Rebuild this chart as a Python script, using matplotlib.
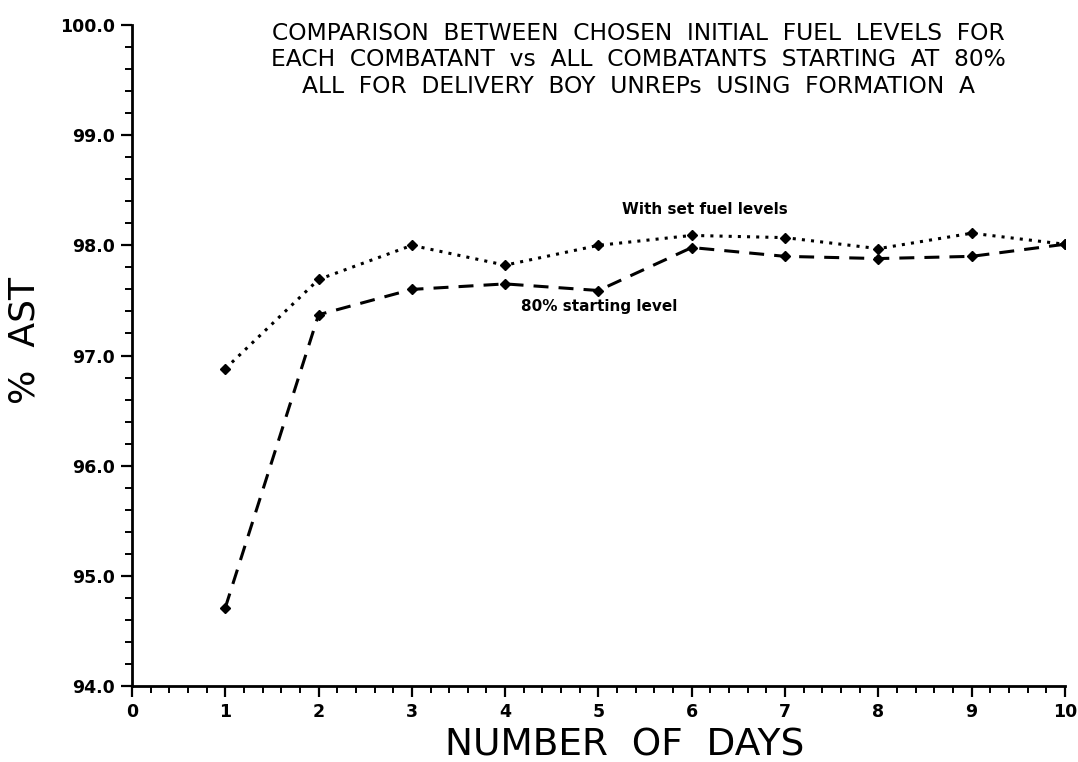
import numpy as np
import matplotlib
matplotlib.use('Agg')
import matplotlib.pyplot as plt
from matplotlib.ticker import MultipleLocator

days = [1, 2, 3, 4, 5, 6, 7, 8, 9, 10]
set_fuel = [96.88, 97.69, 98.00, 97.82, 98.00, 98.09, 98.07, 97.97, 98.11, 98.01]
start_80 = [94.71, 97.37, 97.60, 97.65, 97.59, 97.98, 97.90, 97.88, 97.90, 98.01]

title = ('COMPARISON  BETWEEN  CHOSEN  INITIAL  FUEL  LEVELS  FOR\n'
         'EACH  COMBATANT  vs  ALL  COMBATANTS  STARTING  AT  80%\n'
         'ALL  FOR  DELIVERY  BOY  UNREPs  USING  FORMATION  A')

fig = plt.figure(figsize=(10.78, 7.62), dpi=100)
ax = fig.add_axes([0.1224, 0.0997, 0.8655, 0.8675])

ax.plot(days, set_fuel, color='black', lw=2.2, linestyle=(0, (1, 2.0)),
        marker='D', ms=5)
ax.plot(days, start_80, color='black', lw=2.2, linestyle=(0, (4.9, 3.3)),
        marker='D', ms=5)

ax.set_xlim(0, 10)
ax.set_ylim(94, 100)
ax.xaxis.set_major_locator(MultipleLocator(1))
ax.xaxis.set_minor_locator(MultipleLocator(0.2))
ax.yaxis.set_major_locator(MultipleLocator(1))
ax.yaxis.set_minor_locator(MultipleLocator(0.2))
ax.set_yticks(np.arange(94, 100.5, 1))
ax.set_yticklabels(['%.1f' % v for v in np.arange(94, 100.5, 1)])
for s in ['top', 'right']:
    ax.spines[s].set_visible(False)
for s in ['left', 'bottom']:
    ax.spines[s].set_linewidth(2)
ax.tick_params(which='major', direction='out', length=8, width=1.6,
               labelsize=12.5, pad=4)
ax.tick_params(which='minor', direction='out', length=5, width=1.4)
for lab in ax.get_xticklabels() + ax.get_yticklabels():
    lab.set_fontweight('bold')

ax.set_xlabel('NUMBER  OF  DAYS', fontsize=27)
ax.xaxis.set_label_coords(0.528, -0.062)
ax.set_ylabel('%  AST', fontsize=26)
ax.yaxis.set_label_coords(-0.0965, 0.522)

fig.text(638 / 1078, 1 - 60 / 762, title, ha='center', va='center',
         fontsize=16.8, linespacing=1.2)
fig.text(705 / 1078, 1 - 210 / 762, 'With set fuel levels', ha='center',
         va='center', fontsize=11, fontweight='bold')
fig.text(599 / 1078, 1 - 307 / 762, '80% starting level', ha='center',
         va='center', fontsize=11, fontweight='bold')

fig.savefig('out.png', dpi=100)
